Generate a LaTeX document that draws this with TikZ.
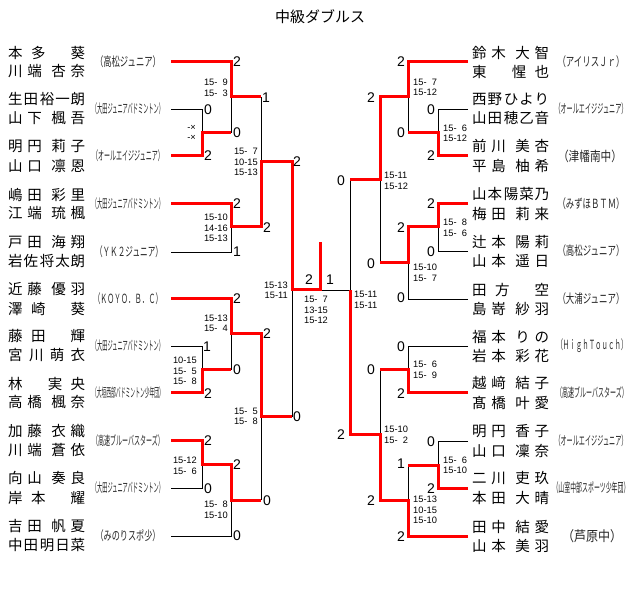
\documentclass[tikz,border=0pt]{standalone}
\usepackage{fontspec}
\usepackage{graphicx}
\setmainfont{Liberation Sans}
\newfontfamily\jp{Noto Sans CJK JP}
\newcommand\pfour[4]{#1\hfill#2\hfill\hfill#3\hfill#4}
\newcommand\pfive[5]{#1\hfill#2\hfill\hfill#3\hfill#4\hfill#5}
\newcommand\pthrA[3]{#1\hfill#2\hfill\hfill\hfill#3}
\newcommand\pthrB[3]{#1\hfill\hfill\hfill#2\hfill#3}
\newcommand\peven[4]{#1\hfill#2\hfill#3\hfill#4}
\newcommand\nmbox[1]{\hbox to 77pt{#1}}
\newcommand\clb[3][10.8pt]{\resizebox{#2}{#1}{\jp #3}}
\newcommand\zs{\hphantom{0}}
\begin{document}
\begin{tikzpicture}[x=1pt,y=-1pt,
  win/.style={draw=red,line width=3pt,line join=miter},
  lose/.style={draw=black,line width=0.9pt},
  sc/.style={inner sep=0pt,font=\fontsize{14}{14}\selectfont},
  detl/.style={inner sep=0pt,anchor=east,align=right,font=\fontsize{9.3}{10.5}\selectfont},
  detr/.style={inner sep=0pt,anchor=west,align=left,font=\fontsize{9.3}{10.5}\selectfont},
  detc/.style={inner sep=0pt,align=center,font=\fontsize{9.3}{10.5}\selectfont},
  nm/.style={inner sep=0pt,anchor=west,font=\jp\fontsize{14.5}{16}\selectfont},
  cl/.style={inner sep=0pt,text=black!85}]
\fill[white] (0,0) rectangle (640,593);
\useasboundingbox (0,0) rectangle (640,593);

\node[font=\jp\fontsize{15}{15}\selectfont] (title) at (320,17) {中級ダブルス};

% ---------- left names ----------
\node[nm] (nL1a) at (8,52.5) {\nmbox{\pthrA{本}{多}{葵}}};
\node[nm] (nL1b) at (8,71.5) {\nmbox{\pfour{川}{端}{杏}{奈}}};
\node[nm] (nL2a) at (8,99.5) {\nmbox{\pfive{生}{田}{裕}{一}{朗}}};
\node[nm] (nL2b) at (8,118.5) {\nmbox{\pfour{山}{下}{楓}{吾}}};
\node[nm] (nL3a) at (8,146.5) {\nmbox{\pfour{明}{円}{莉}{子}}};
\node[nm] (nL3b) at (8,165.5) {\nmbox{\pfour{山}{口}{凛}{恩}}};
\node[nm] (nL4a) at (8,194.5) {\nmbox{\pfour{嶋}{田}{彩}{里}}};
\node[nm] (nL4b) at (8,213.5) {\nmbox{\pfour{江}{端}{琉}{楓}}};
\node[nm] (nL5a) at (8,242.5) {\nmbox{\pfour{戸}{田}{海}{翔}}};
\node[nm] (nL5b) at (8,261.5) {\nmbox{\pfive{岩}{佐}{将}{太}{朗}}};
\node[nm] (nL6a) at (8,289.5) {\nmbox{\pfour{近}{藤}{優}{羽}}};
\node[nm] (nL6b) at (8,308.5) {\nmbox{\pthrA{澤}{崎}{葵}}};
\node[nm] (nL7a) at (8,336.5) {\nmbox{\pthrA{藤}{田}{輝}}};
\node[nm] (nL7b) at (8,355.5) {\nmbox{\peven{宮}{川}{萌}{衣}}};
\node[nm] (nL8a) at (8,383.5) {\nmbox{\pthrB{林}{実}{央}}};
\node[nm] (nL8b) at (8,402.5) {\nmbox{\pfour{高}{橋}{楓}{奈}}};
\node[nm] (nL9a) at (8,431.5) {\nmbox{\pfour{加}{藤}{衣}{織}}};
\node[nm] (nL9b) at (8,450.5) {\nmbox{\pfour{川}{端}{蒼}{依}}};
\node[nm] (nL10a) at (8,478.5) {\nmbox{\pfour{向}{山}{奏}{良}}};
\node[nm] (nL10b) at (8,497.5) {\nmbox{\pthrA{岸}{本}{耀}}};
\node[nm] (nL11a) at (8,526.5) {\nmbox{\pfour{吉}{田}{帆}{夏}}};
\node[nm] (nL11b) at (8,545.5) {\nmbox{\pfive{中}{田}{明}{日}{菜}}};

% ---------- right names ----------
\node[nm] (nR1a) at (472,52.5) {\nmbox{\pfour{鈴}{木}{大}{智}}};
\node[nm] (nR1b) at (472,71.5) {\nmbox{\pthrB{東}{惺}{也}}};
\node[nm] (nR2a) at (472,99.5) {\nmbox{\pfive{西}{野}{ひ}{よ}{り}}};
\node[nm] (nR2b) at (472,118.5) {\nmbox{\pfive{山}{田}{穂}{乙}{音}}};
\node[nm] (nR3a) at (472,146.5) {\nmbox{\pfour{前}{川}{美}{杏}}};
\node[nm] (nR3b) at (472,165.5) {\nmbox{\pfour{平}{島}{柚}{希}}};
\node[nm] (nR4a) at (472,194.5) {\nmbox{\pfive{山}{本}{陽}{菜}{乃}}};
\node[nm] (nR4b) at (472,213.5) {\nmbox{\pfour{梅}{田}{莉}{来}}};
\node[nm] (nR5a) at (472,241.5) {\nmbox{\pfour{辻}{本}{陽}{莉}}};
\node[nm] (nR5b) at (472,260.5) {\nmbox{\pfour{山}{本}{遥}{日}}};
\node[nm] (nR6a) at (472,289.5) {\nmbox{\pthrA{田}{方}{空}}};
\node[nm] (nR6b) at (472,308.5) {\nmbox{\pfour{島}{嵜}{紗}{羽}}};
\node[nm] (nR7a) at (472,336.5) {\nmbox{\pfour{福}{本}{り}{の}}};
\node[nm] (nR7b) at (472,355.5) {\nmbox{\pfour{岩}{本}{彩}{花}}};
\node[nm] (nR8a) at (472,383.5) {\nmbox{\pfour{越}{﨑}{結}{子}}};
\node[nm] (nR8b) at (472,402.5) {\nmbox{\pfour{髙}{橋}{叶}{愛}}};
\node[nm] (nR9a) at (472,431.5) {\nmbox{\pfour{明}{円}{香}{子}}};
\node[nm] (nR9b) at (472,450.5) {\nmbox{\pfour{山}{口}{凜}{奈}}};
\node[nm] (nR10a) at (472,478.5) {\nmbox{\pfour{二}{川}{吏}{玖}}};
\node[nm] (nR10b) at (472,497.5) {\nmbox{\pfour{本}{田}{大}{晴}}};
\node[nm] (nR11a) at (472,526.5) {\nmbox{\pfour{田}{中}{結}{愛}}};
\node[nm] (nR11b) at (472,545.5) {\nmbox{\pfour{山}{本}{美}{羽}}};

% ---------- clubs ----------
\node[cl] (cL1) at (128,62) {\clb{66pt}{（高松ジュニア）}};
\node[cl] (cL2) at (128,109) {\clb{72pt}{（大田ジュニアバドミントン）}};
\node[cl] (cL3) at (128,156) {\clb{72pt}{（オールエイジジュニア）}};
\node[cl] (cL4) at (128,204) {\clb{72pt}{（大田ジュニアバドミントン）}};
\node[cl] (cL5) at (129,252) {\clb{68pt}{（ＹＫ２ジュニア）}};
\node[cl] (cL6) at (128,299) {\clb{69pt}{（ＫＯＹＯ．Ｂ．Ｃ）}};
\node[cl] (cL7) at (128,346) {\clb{72pt}{（大田ジュニアバドミントン）}};
\node[cl] (cL8) at (128,393) {\clb{72pt}{（大垣西部バドミントン少年団）}};
\node[cl] (cL9) at (128,441) {\clb{72pt}{（高速ブルーバスターズ）}};
\node[cl] (cL10) at (128,488) {\clb{72pt}{（大田ジュニアバドミントン）}};
\node[cl] (cL11) at (128,536) {\clb{65pt}{（みのりスポ少）}};
\node[cl] (cR1) at (591,62) {\clb{67pt}{（アイリスＪｒ）}};
\node[cl] (cR2) at (591,109) {\clb{73pt}{（オールエイジジュニア）}};
\node[cl] (cR3) at (590,156) {\clb[11.5pt]{64pt}{（津幡南中）}};
\node[cl] (cR4) at (591,204) {\clb{67pt}{（みずほＢＴＭ）}};
\node[cl] (cR5) at (591,251) {\clb{67pt}{（高松ジュニア）}};
\node[cl] (cR6) at (591,299) {\clb{67pt}{（大浦ジュニア）}};
\node[cl] (cR7) at (592,346) {\clb{71pt}{（ＨｉｇｈＴｏｕｃｈ）}};
\node[cl] (cR8) at (592,393) {\clb{72pt}{（高速ブルーバスターズ）}};
\node[cl] (cR9) at (591,441) {\clb{73pt}{（オールエイジジュニア）}};
\node[cl] (cR10) at (591,488) {\clb{77pt}{（山室中部スポーツ少年団）}};
\node[cl] (cR11) at (592,536) {\clb[12pt]{60pt}{（芦原中）}};

% ---------- coordinates ----------
\coordinate (e1) at (171,62);  \coordinate (e2) at (171,109); \coordinate (e3) at (171,156);
\coordinate (e4) at (171,204); \coordinate (e5) at (171,252); \coordinate (e6) at (171,299);
\coordinate (e7) at (171,346); \coordinate (e8) at (171,393); \coordinate (e9) at (171,441);
\coordinate (e10) at (171,488); \coordinate (e11) at (171,536);
\coordinate (r1) at (468,62);  \coordinate (r2) at (468,109); \coordinate (r3) at (468,156);
\coordinate (r4) at (468,204); \coordinate (r5) at (468,251); \coordinate (r6) at (468,299);
\coordinate (r7) at (468,346); \coordinate (r8) at (468,393); \coordinate (r9) at (468,441);
\coordinate (r10) at (468,488); \coordinate (r11) at (468,536);
\coordinate (mA) at (202,133); \coordinate (mB) at (231,97);  \coordinate (mC) at (231,227);
\coordinate (mD) at (261,162); \coordinate (mE) at (202,370); \coordinate (mF) at (231,334);
\coordinate (mG) at (202,464); \coordinate (mH) at (231,500); \coordinate (mI) at (261,417);
\coordinate (mJ) at (292,290); \coordinate (fin) at (320,290); \coordinate (champ) at (320,242);
\coordinate (mR) at (350,290);
\coordinate (nA) at (438,133); \coordinate (nB) at (408,97);  \coordinate (nC) at (438,227);
\coordinate (nD) at (408,263); \coordinate (nE) at (380,180); \coordinate (nF) at (408,370);
\coordinate (nG) at (438,465); \coordinate (nH) at (408,500); \coordinate (nI) at (380,435);

% ---------- losing (black) lines ----------
\draw[lose] (e2) -| (mA);
\draw[lose] (mA -| mB) -- (mB);
\draw[lose] (e5) -| (mC);
\draw[lose] (mB -| mD) -- (mD);
\draw[lose] (e7) -| (mE);
\draw[lose] (mE -| mF) -- (mF);
\draw[lose] (e10) -| (mG);
\draw[lose] (e11) -| (mH);
\draw[lose] (mH -| mI) -- (mI);
\draw[lose] (mI -| mJ) -- (mJ);
\draw[lose] (fin) -- (mR);
\draw[lose] (r2) -| (nA);
\draw[lose] (nA -| nB) -- (nB);
\draw[lose] (r5) -| (nC);
\draw[lose] (r6) -| (nD);
\draw[lose] (nD -| nE) -- (nE);
\draw[lose] (nE -| mR) -- (mR);
\draw[lose] (r7) -| (nF);
\draw[lose] (nF -| nI) -- (nI);
\draw[lose] (r9) -| (nG);
\draw[lose] (nG -| nH) -- (nH);

% ---------- winning (red) lines ----------
\draw[win] (e1) -| (mB) -- (mB -| mD);
\draw[win] (e3) -| (mA) -- (mA -| mB);
\draw[win] (e4) -| (mC) -| (mD) -| (mJ) -| (champ);
\draw[win] (e6) -| (mF) -| (mI) -- (mI -| mJ);
\draw[win] (e8) -| (mE) -- (mE -| mF);
\draw[win] (e9) -| (mG) -| (mH) -- (mH -| mI);
\draw[win] (r1) -| (nB) -| (nE) -- (nE -| mR);
\draw[win] (r3) -| (nA) -- (nA -| nB);
\draw[win] (r4) -| (nC) -| (nD) -- (nD -| nE);
\draw[win] (r8) -| (nF) -- (nF -| nI);
\draw[win] (r10) -| (nG) -- (nG -| nH);
\draw[win] (r11) -| (nH) -| (nI) -| (mR);

% ---------- round scores ----------
\node[sc] (sL1) at (237,62) {2};
\node[sc] (sL2) at (208,110) {0};
\node[sc] (sL3) at (208,156) {2};
\node[sc] (sL4) at (266,98) {1};
\node[sc] (sL5) at (237,133) {0};
\node[sc] (sL6) at (297,162) {2};
\node[sc] (sL7) at (237,204) {2};
\node[sc] (sL8) at (267,228) {2};
\node[sc] (sL9) at (237,252) {1};
\node[sc] (sL10) at (237,299) {2};
\node[sc] (sL11) at (267,334) {2};
\node[sc] (sL12) at (207,347) {1};
\node[sc] (sL13) at (237,370) {0};
\node[sc] (sL14) at (208,394) {2};
\node[sc] (sL15) at (297,417) {0};
\node[sc] (sL16) at (208,441) {2};
\node[sc] (sL17) at (237,465) {2};
\node[sc] (sL18) at (208,489) {0};
\node[sc] (sL19) at (267,501) {0};
\node[sc] (sL20) at (237,536) {0};
\node[sc] (sF1) at (309,280) {2};
\node[sc] (sF2) at (330,280) {1};
\node[sc] (sR1) at (401,62) {2};
\node[sc] (sR2) at (371,98) {2};
\node[sc] (sR3) at (431,110) {0};
\node[sc] (sR4) at (401,133) {0};
\node[sc] (sR5) at (431,156) {2};
\node[sc] (sR6) at (341,181) {0};
\node[sc] (sR7) at (431,204) {2};
\node[sc] (sR8) at (401,228) {2};
\node[sc] (sR9) at (431,252) {0};
\node[sc] (sR10) at (371,264) {0};
\node[sc] (sR11) at (401,298) {0};
\node[sc] (sR12) at (401,347) {0};
\node[sc] (sR13) at (371,370) {0};
\node[sc] (sR14) at (401,394) {2};
\node[sc] (sR15) at (341,435) {2};
\node[sc] (sR16) at (431,442) {0};
\node[sc] (sR17) at (401,464) {1};
\node[sc] (sR18) at (431,489) {2};
\node[sc] (sR19) at (371,501) {2};
\node[sc] (sR20) at (401,537) {2};

% ---------- game details ----------
\node[detl] (dL1) at (228,88) {15-\zs 9\\15-\zs 3};
\node[detl] (dL2) at (196,133) {-×\\-×};
\node[detl] (dL3) at (258,162) {15-\zs 7\\10-15\\15-13};
\node[detl] (dL4) at (228,228) {15-10\\14-16\\15-13};
\node[detl] (dL5) at (288,290.5) {15-13\\15-11};
\node[detl] (dL6) at (228,323.5) {15-13\\15-\zs 4};
\node[detl] (dL7) at (197,371) {10-15\\15-\zs 5\\15-\zs 8};
\node[detl] (dL8) at (258,416.5) {15-\zs 5\\15-\zs 8};
\node[detl] (dL9) at (197,466) {15-12\\15-\zs 6};
\node[detl] (dL10) at (228,510) {15-\zs 8\\15-10};
\node[detc] (dF) at (316,310) {15-\zs 7\\13-15\\15-12};
\node[detr] (dR0) at (354,300) {15-11\\15-11};
\node[detr] (dR1) at (413,87.5) {15-\zs 7\\15-12};
\node[detr] (dR2) at (443,133.5) {15-\zs 6\\15-12};
\node[detr] (dR3) at (384,181) {15-11\\15-12};
\node[detr] (dR4) at (443,228) {15-\zs 8\\15-\zs 6};
\node[detr] (dR5) at (413,273) {15-10\\15-\zs 7};
\node[detr] (dR6) at (413,370) {15-\zs 6\\15-\zs 9};
\node[detr] (dR7) at (384,435) {15-10\\15-\zs 2};
\node[detr] (dR8) at (443,465.5) {15-\zs 6\\15-10};
\node[detr] (dR9) at (413,510) {15-13\\10-15\\15-10};
\end{tikzpicture}
\end{document}
